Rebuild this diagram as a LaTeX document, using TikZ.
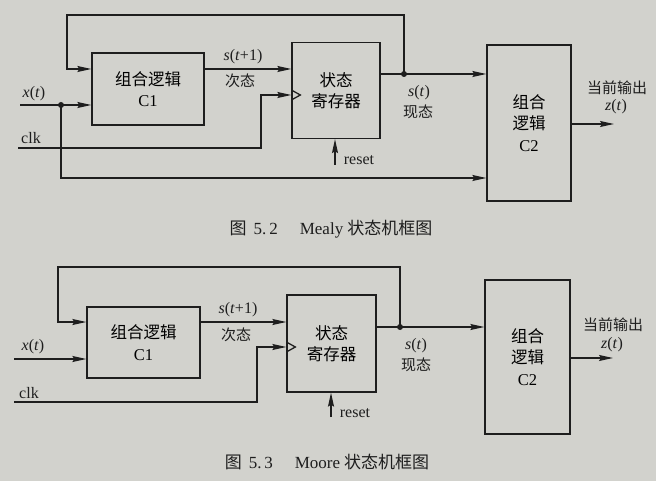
\documentclass[tikz,border=0pt]{standalone}
\usepackage{fontspec}
\setmainfont{Liberation Serif}
\newfontfamily\cjk{Noto Sans CJK SC}
\usetikzlibrary{arrows.meta,calc}
\definecolor{paper}{RGB}{210,210,205}
\definecolor{ink}{RGB}{30,30,30}
\tikzset{
  blk/.style={draw=ink, line width=1.3pt, inner sep=0pt, align=center, font=\fontsize{16.5}{21.5}\selectfont},
  wire/.style={draw=ink, line width=1.3pt},
  arr/.style={wire, -{Stealth[length=14pt,width=6pt,inset=2pt]}},
  lbl/.style={text=ink, inner sep=0pt, font=\fontsize{15}{18}\selectfont},
  ltn/.style={text=ink, inner sep=0pt, font=\fontsize{16}{19}\selectfont},
  figcap/.style={text=ink, inner sep=0pt, font=\fontsize{17}{20}\selectfont},
  jdot/.style={circle, fill=ink, inner sep=0pt, minimum size=6pt},
}
\begin{document}
\begin{tikzpicture}[x=1pt,y=-1pt]
\fill[paper] (0,0) rectangle (656,481);
\useasboundingbox (0,0) rectangle (656,481);

% ===== Mealy =====
\node[blk, minimum width=112pt, minimum height=72pt] (c1a) at (148,89) {{\cjk 组合逻辑}\\C1};
\node[blk, minimum width=88pt, minimum height=96pt] (rega) at (336,90.5) {{\cjk 状态}\\{\cjk 寄存器}};
\node[blk, minimum width=84pt, minimum height=156pt] (c2a) at (529,123) {{\cjk 组合}\\{\cjk 逻辑}\\C2};

\coordinate (ya1) at (0,69);
\coordinate (ya2) at (0,95);
\coordinate (ya3) at (0,178);
\coordinate (ya4) at (0,124);
\node[jdot] (dotSa) at (404,74) {};
\node[jdot] (dotXa) at (61,105) {};
\coordinate (fbRa) at (404,15);
\coordinate (fbLa) at (67,15);
\coordinate (xina) at (20,105);
\coordinate (clkina) at (18,148);
\coordinate (clkupa) at (261,148);
\coordinate (rsta) at (335,165);
\coordinate (outa) at (614,124);

\draw[arr] (dotSa.center) -- (fbRa) -- (fbLa) |- (c1a.west |- ya1);
\draw[arr] (c1a.east |- ya1) -- (rega.west |- ya1);
\draw[arr] (rega.east |- dotSa) -- (c2a.west |- dotSa);
\draw[arr] (xina) -- (c1a.west |- xina);
\draw[arr] (dotXa.center) |- (c2a.west |- ya3);
\draw[arr] (clkina) -- (clkupa) |- (rega.west |- ya2);
\draw[wire] ($(rega.west |- ya2)+(0,-5)$) -- ++(9,5) -- ++(-9,5);
\draw[arr] (rsta) -- (rega.south -| rsta);
\draw[arr] (c2a.east |- ya4) -- (outa);

\node[ltn] (xla) at (34,94) {\itshape x\/\upshape(\itshape t\/\upshape)};
\node[ltn] (clkla) at (31,138) {clk};
\node[ltn] (st1a) at (243,57) {\itshape s\/\upshape(\itshape t\/\upshape+1)};
\node[lbl] (nsa) at (240,81) {\cjk 次态};
\node[ltn] (sta) at (419,93) {\itshape s\/\upshape(\itshape t\/\upshape)};
\node[lbl] (psa) at (418,112) {\cjk 现态};
\node[ltn] (rla) at (359,160) {reset};
\node[lbl] (oa) at (617,88) {\cjk 当前输出};
\node[ltn] (za) at (616,107) {\itshape z\/\upshape(\itshape t\/\upshape)};
\node[figcap] (capa) at (331,229) {{\cjk 图}\hspace{7pt}5.\,2\hspace{22pt}Mealy\hspace{4pt}{\cjk 状态机框图}};

% ===== Moore =====
\node[blk, minimum width=113pt, minimum height=71pt] (c1b) at (143.5,342.5) {{\cjk 组合逻辑}\\C1};
\node[blk, minimum width=89pt, minimum height=97pt] (regb) at (331.5,343.5) {{\cjk 状态}\\{\cjk 寄存器}};
\node[blk, minimum width=85pt, minimum height=154pt] (c2b) at (527.5,357) {{\cjk 组合}\\{\cjk 逻辑}\\C2};

\coordinate (yb1) at (0,322);
\coordinate (yb2) at (0,347);
\coordinate (yb4) at (0,358);
\node[jdot] (dotSb) at (400,327) {};
\coordinate (fbRb) at (400,267);
\coordinate (fbLb) at (58,267);
\coordinate (xinb) at (14,359);
\coordinate (clkinb) at (14,402);
\coordinate (clkupb) at (257,402);
\coordinate (rstb) at (331,417);
\coordinate (outb) at (613,358);

\draw[arr] (dotSb.center) -- (fbRb) -- (fbLb) |- (c1b.west |- yb1);
\draw[arr] (c1b.east |- yb1) -- (regb.west |- yb1);
\draw[arr] (regb.east |- dotSb) -- (c2b.west |- dotSb);
\draw[arr] (xinb) -- (c1b.west |- xinb);
\draw[arr] (clkinb) -- (clkupb) |- (regb.west |- yb2);
\draw[wire] ($(regb.west |- yb2)+(0,-5)$) -- ++(9,5) -- ++(-9,5);
\draw[arr] (rstb) -- (regb.south -| rstb);
\draw[arr] (c2b.east |- yb4) -- (outb);

\node[ltn] (xlb) at (33,347) {\itshape x\/\upshape(\itshape t\/\upshape)};
\node[ltn] (clklb) at (29,393) {clk};
\node[ltn] (st1b) at (238,310) {\itshape s\/\upshape(\itshape t\/\upshape+1)};
\node[lbl] (nsb) at (236,335) {\cjk 次态};
\node[ltn] (stb) at (416,346) {\itshape s\/\upshape(\itshape t\/\upshape)};
\node[lbl] (psb) at (416,365) {\cjk 现态};
\node[ltn] (rlb) at (355,413) {reset};
\node[lbl] (ob) at (613,325) {\cjk 当前输出};
\node[ltn] (zb) at (612,345) {\itshape z\/\upshape(\itshape t\/\upshape)};
\node[figcap] (capb) at (327,462) {{\cjk 图}\hspace{7pt}5.\,3\hspace{22pt}Moore\hspace{4pt}{\cjk 状态机框图}};
\end{tikzpicture}
\end{document}
